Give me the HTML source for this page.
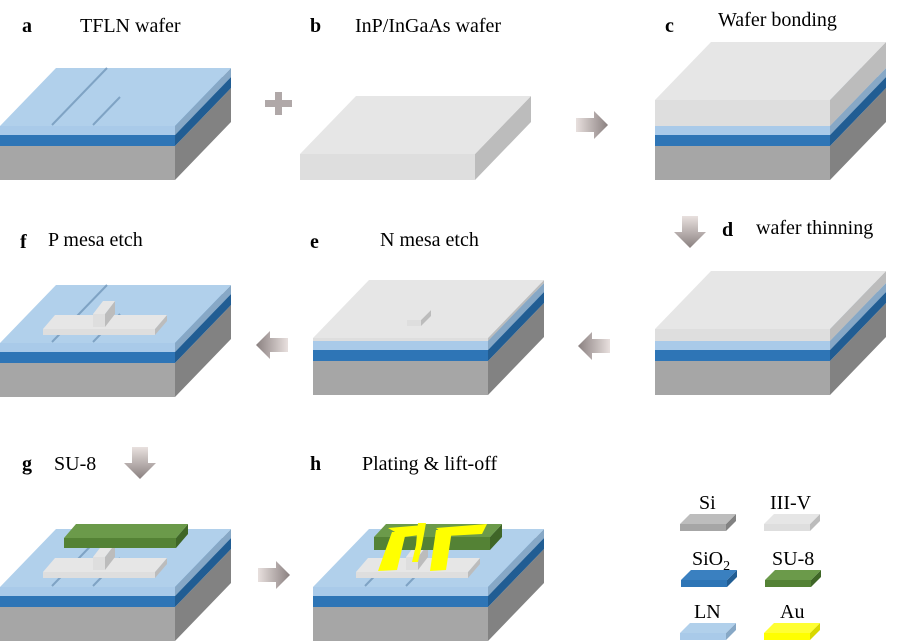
<!DOCTYPE html>
<html><head><meta charset="utf-8"><style>
body{margin:0;background:#fff;width:900px;height:641px;overflow:hidden}
svg{display:block}
text{font-family:"Liberation Serif",serif;fill:#000}
.l{font-size:20px}
.b{font-weight:bold}
</style></head><body>
<svg id="s" width="900" height="641" viewBox="0 0 900 641" xmlns="http://www.w3.org/2000/svg">
<defs>
<linearGradient id="ga" x1="0" y1="0" x2="1" y2="0"><stop offset="0" stop-color="#e8e0de"/><stop offset="1" stop-color="#8a8080"/></linearGradient>
<linearGradient id="gl" x1="1" y1="0" x2="0" y2="0"><stop offset="0" stop-color="#e8e0de"/><stop offset="1" stop-color="#8a8080"/></linearGradient>
<linearGradient id="gd" x1="0" y1="0" x2="0" y2="1"><stop offset="0" stop-color="#e8e0de"/><stop offset="1" stop-color="#8a8080"/></linearGradient>
</defs>
<g id="shapes"></g>
<text class="l b" x="22" y="32">a</text><text class="l" x="80" y="32">TFLN wafer</text>
<text class="l b" x="310" y="32">b</text><text class="l" x="355" y="32">InP/InGaAs wafer</text>
<text class="l b" x="665" y="32">c</text><text class="l" x="718" y="26">Wafer bonding</text>
<text class="l b" x="722" y="236">d</text><text class="l" x="756" y="234">wafer thinning</text>
<text class="l b" x="20" y="248">f</text><text class="l" x="48" y="246">P mesa etch</text>
<text class="l b" x="310" y="248">e</text><text class="l" x="380" y="246">N mesa etch</text>
<text class="l b" x="22" y="470">g</text><text class="l" x="54" y="470">SU-8</text>
<text class="l b" x="310" y="470">h</text><text class="l" x="362" y="470">Plating &amp; lift-off</text>
<text class="l" x="699" y="509">Si</text><text class="l" x="770" y="509">III-V</text>
<text class="l" x="692" y="565">SiO<tspan font-size="14" dy="5">2</tspan></text><text class="l" x="772" y="565">SU-8</text>
<text class="l" x="694" y="618">LN</text><text class="l" x="780" y="618">Au</text>
</svg>
<script>
var NS="http://www.w3.org/2000/svg",G=document.getElementById("shapes");
function poly(pts,f){var p=document.createElementNS(NS,"polygon");p.setAttribute("points",pts.map(function(q){return q[0].toFixed(1)+","+q[1].toFixed(1)}).join(" "));p.setAttribute("fill",f);G.appendChild(p);}
var C={si:["#a6a6a6","#828282","#bdbdbd"],ox:["#2e75b6","#215d93","#3a80c0"],ln:["#a9cae9","#87a8c6","#b1d0eb"],iii:["#dedede","#bcbcbc","#e6e6e6"],su:["#548235","#3f6627","#6b9a4a"],au:["#ffff00","#d8d800","#ffff33"]};
function box(x0,yb,w,dx,dy,h,c){var yt=yb-h;
poly([[x0,yt],[x0+w,yt],[x0+w,yb],[x0,yb]],c[0]);
poly([[x0+w,yt],[x0+w+dx,yt-dy],[x0+w+dx,yb-dy],[x0+w,yb]],c[1]);
poly([[x0,yt],[x0+dx,yt-dy],[x0+w+dx,yt-dy],[x0+w,yt]],c[2]);}
function wafer(x0,yb,extra){var y=yb;var L=[["si",34],["ox",11],["ln",9]].concat(extra||[]);
L.forEach(function(l){box(x0,y,175,56,58,l[1],C[l[0]]);y-=l[1];});return y;}
function ridges(x0,yt){
 G.insertAdjacentHTML("beforeend",'<path d="M'+(x0+52)+','+(yt-1)+' l55,-57 M'+(x0+93)+','+(yt-1)+' l27,-28" stroke="#7fa3c4" stroke-width="2" fill="none"/>');}
var t=wafer(0,180);ridges(0,t);
box(300,180,175,56,58,26,C.iii);
wafer(655,180,[["iii",26]]);
wafer(655,395,[["iii",12]]);
t=wafer(313,395);
box(313,t,175,56,58,3,C.iii);
box(407,326,14,10,10,6,C.iii);
t=wafer(0,397);ridges(0,t);
box(43,335,112,12,14,6,C.iii);box(93,327,12,10,13,13,C.iii);
t=wafer(0,641);ridges(0,t);
box(43,578,112,12,14,6,C.iii);box(93,570,12,10,13,13,C.iii);
box(64,548,112,12,14,10,C.su);
t=wafer(313,641);ridges(313,t);
box(356,578,112,12,14,6,C.iii);box(406,570,12,10,13,13,C.iii);
box(374,550,116,12,13,13,C.su);
var Y="#ffff00";
poly([[388,528],[424,525],[420,535],[404,537]],Y);
poly([[392,532],[406,532],[397,570],[378,571]],Y);
poly([[436,528],[487,524],[482,534],[446,536]],Y);
poly([[436,530],[452,530],[446,570],[430,571]],Y);
poly([[418,523],[426,523],[422,545],[418,562],[412,562],[416,545]],Y);
[[680,531,"si"],[764,531,"iii"],[681,587,"ox"],[765,587,"su"],[680,640,"ln"],[764,640,"au"]].forEach(function(a){box(a[0],a[1],46,10,10,7,C[a[2]]);});
function ar(pts,f){poly(pts,f);}
ar([[265,100],[275,100],[275,92],[282,92],[282,100],[292,100],[292,107],[282,107],[282,115],[275,115],[275,107],[265,107]],"#b0a8a8");
function right(x,y,f){ar([[x,y-7],[x+18,y-7],[x+18,y-14],[x+32,y],[x+18,y+14],[x+18,y+7],[x,y+7]],f);}
function left(x,y,f){ar([[x+32,y-7],[x+14,y-7],[x+14,y-14],[x,y],[x+14,y+14],[x+14,y+7],[x+32,y+7]],f);}
function down(x,y,f){ar([[x-8,y],[x+8,y],[x+8,y+16],[x+16,y+16],[x,y+32],[x-16,y+16],[x-8,y+16]],f);}
right(576,125,"url(#ga)");right(258,575,"url(#ga)");
left(578,346,"url(#gl)");left(256,345,"url(#gl)");
down(690,216,"url(#gd)");down(140,447,"url(#gd)");
</script>
</body></html>
